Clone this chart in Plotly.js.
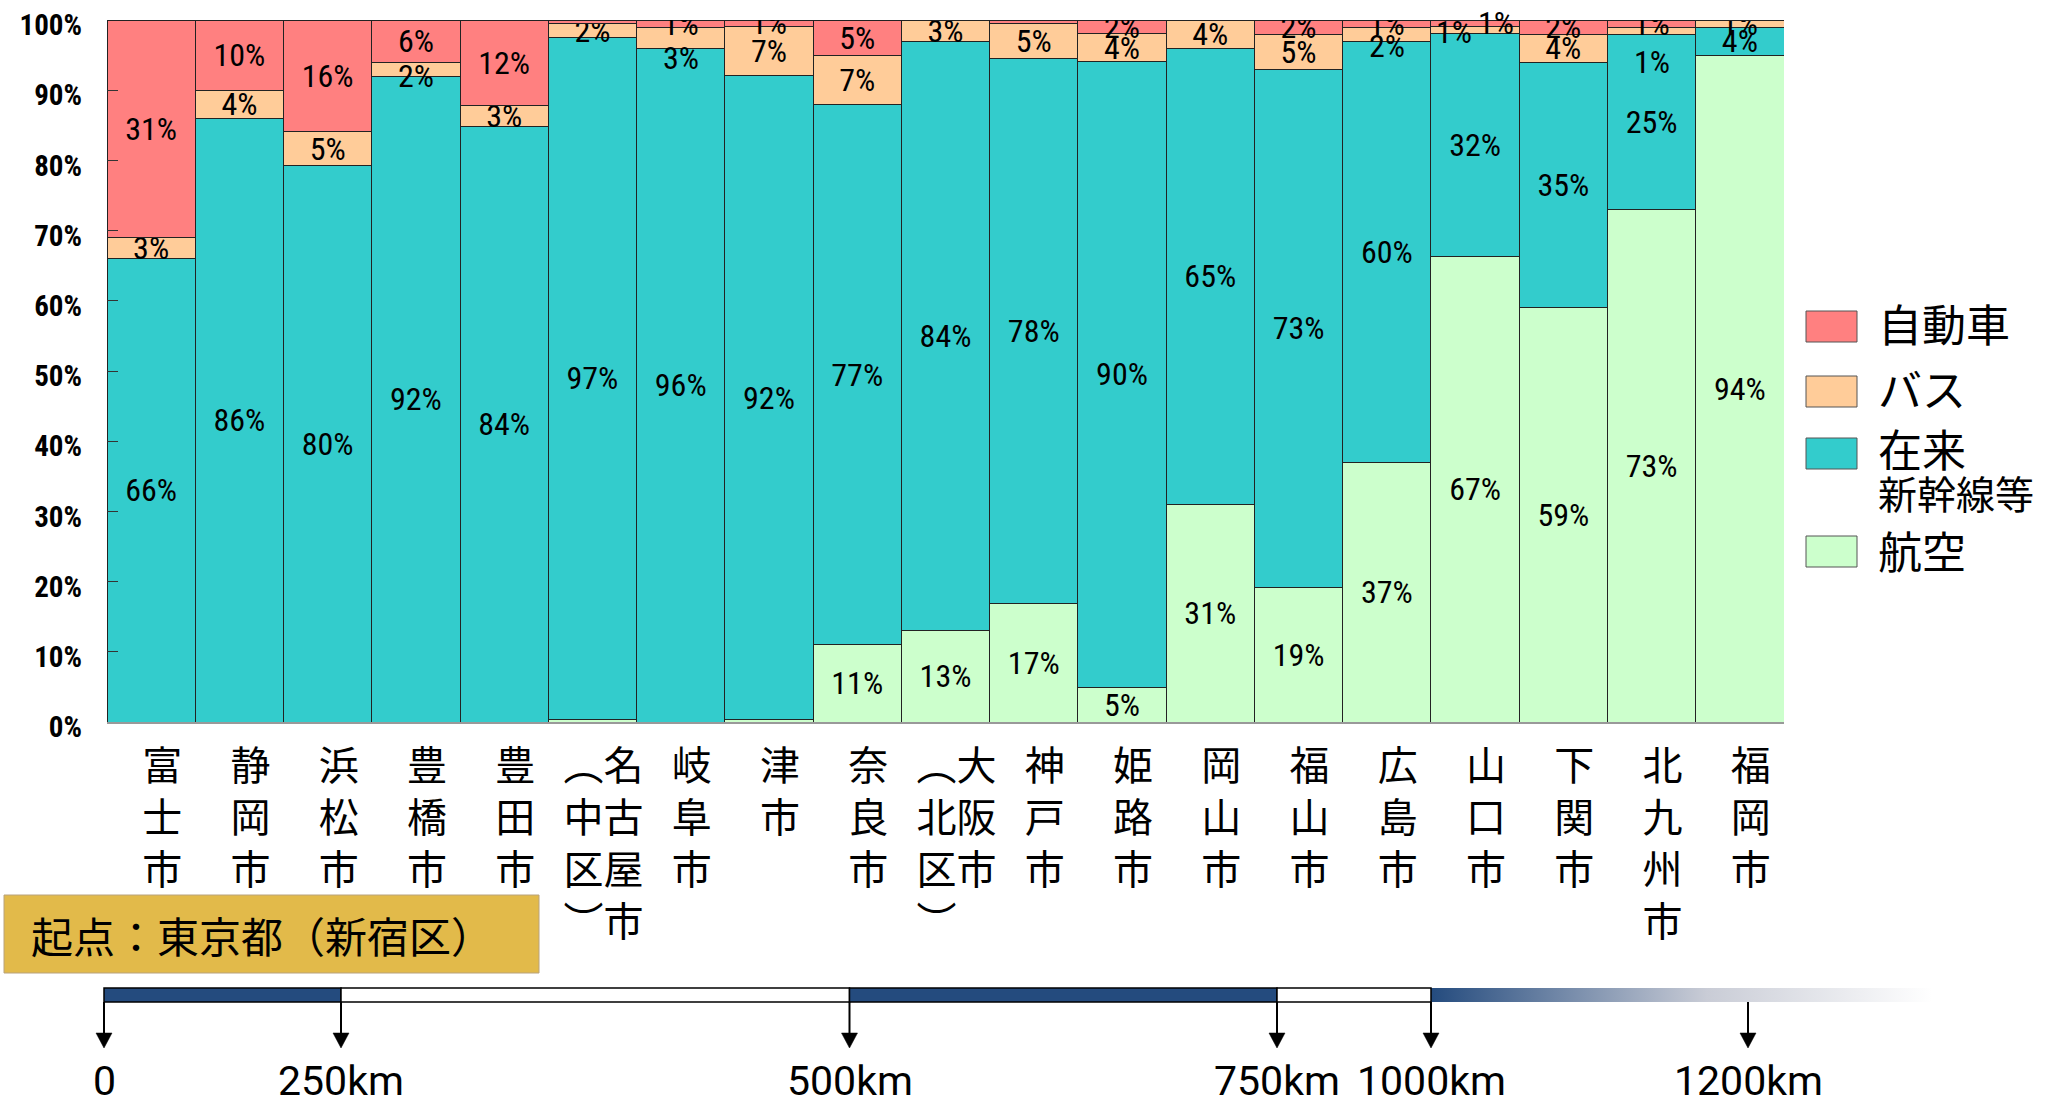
<!DOCTYPE html>
<html>
<head>
<meta charset="utf-8">
<script src="https://cdn.plot.ly/plotly-3.0.1.min.js"></script>
<style>
  html, body { margin: 0; padding: 0; background: #ffffff; }
  #chart { width: 2071px; height: 1108px; }
</style>
</head>
<body>
<div id="chart"></div>
<script>
// Destination cities, ordered by distance from Shinjuku
const cities = ['富士市', '静岡市', '浜松市', '豊橋市', '豊田市', '名古屋市（中区）', '岐阜市', '津市', '奈良市',
  '大阪市（北区）', '神戸市', '姫路市', '岡山市', '福山市', '広島市', '山口市', '下関市', '北九州市', '福岡市'];

// Vertical (tategaki) tick labels: each line holds one character per column
const cityTicks = ['富<br>士<br>市', '静<br>岡<br>市', '浜<br>松<br>市', '豊<br>橋<br>市', '豊<br>田<br>市',
  '︵名<br>中古<br>区屋<br>︶市', '岐<br>阜<br>市', '津<br>市', '奈<br>良<br>市', '︵大<br>北阪<br>区市<br>︶　',
  '神<br>戸<br>市', '姫<br>路<br>市', '岡<br>山<br>市', '福<br>山<br>市', '広<br>島<br>市', '山<br>口<br>市',
  '下<br>関<br>市', '北<br>九<br>州<br>市', '福<br>岡<br>市'];

// Modal share (%) for each destination
const air  = [0, 0, 0, 0, 0, 0.4, 0, 0.4, 11, 13, 17, 5, 31, 19, 37, 67, 59, 73, 94];
const rail = [66, 86, 80, 92, 84, 97, 96, 92, 77, 84, 78, 90, 65, 73, 60, 32, 35, 25, 4];
const bus  = [3, 4, 5, 2, 3, 2, 3, 7, 7, 3, 5, 4, 4, 5, 2, 1, 4, 1, 1];
const car  = [31, 10, 16, 6, 12, 0.5, 1, 1, 5, 0, 0.5, 2, 0, 2, 1, 1, 2, 1, 0];

const seriesNames = { car: '自動車', bus: 'バス', rail: '在来\n新幹線等', air: '航空' };

// Distance scale marks
const distanceLabels = ['0', '250km', '500km', '750km', '1000km', '1200km'];
const originLabel = '起点：東京都（新宿区）';

// ---- layout geometry (pixels) ----
const W = 2071, H = 1108;
const L = 107, R = 1784, T = 20, B = 722;
const px = x => (x - L) / (R - L);
const py = y => (B - y) / (B - T);

const colors = { air: '#CCFFCC', rail: '#33CCCC', bus: '#FFCC99', car: '#FF8080' };
const edge = '#222222';
const navy = '#244B7E';
const narrow = '"Roboto Condensed", "DejaVu Sans Condensed", sans-serif';
const labelFont = { family: narrow, size: 32, color: '#000000' };
const cjk = '"Noto Sans CJK JP", "Noto Sans CJK SC", sans-serif';

const order = ['air', 'rail', 'bus', 'car'];
const values = { air, rail, bus, car };
const pct = v => (v >= 1 ? v + '%' : '');

// Crowded labels at the top of a few bars are moved off the centre
const nudges = [
  { s: 'bus', i: 3, dx: 0, dy: 7 },
  { s: 'bus', i: 6, dx: 0, dy: 20 },
  { s: 'bus', i: 14, dx: 0, dy: 12 },
  { s: 'bus', i: 15, dx: -21, dy: 2 },
  { s: 'car', i: 15, dx: 21, dy: 0 },
  { s: 'bus', i: 17, dx: 0, dy: 31 }
];
const isNudged = (s, i) => nudges.some(n => n.s === s && n.i === i);

const traces = order.map(key => ({
  type: 'bar',
  name: seriesNames[key],
  x: cities,
  y: values[key],
  marker: { color: colors[key], line: { color: edge, width: 1 } },
  text: values[key].map((v, i) => (isNudged(key, i) ? '' : pct(v))),
  textposition: 'inside',
  insidetextanchor: 'middle',
  textangle: 0,
  constraintext: 'none',
  textfont: labelFont,
  hoverinfo: 'skip',
  showlegend: false
}));

// centre of a segment, as a share of its (normalised) bar
function segmentMiddle(key, i) {
  const total = order.reduce((s, k) => s + values[k][i], 0);
  let base = 0;
  for (const k of order) {
    if (k === key) return (base + values[k][i] / 2) / total * 100;
    base += values[k][i];
  }
  return 0;
}

const annotations = nudges.map(n => ({
  x: cities[n.i], y: segmentMiddle(n.s, n.i), xref: 'x', yref: 'y',
  text: pct(values[n.s][n.i]), showarrow: false, font: labelFont,
  xshift: n.dx, yshift: -n.dy
}));

const shapes = [];
const images = [];

// ---- legend ----
const legendRows = [
  { key: 'car', top: 311, lines: [[323, 44]] },
  { key: 'bus', top: 376, lines: [[388, 44]] },
  { key: 'rail', top: 438, lines: [[448, 44], [492, 39]] },
  { key: 'air', top: 536, lines: [[550, 44]] }
];
legendRows.forEach(row => {
  shapes.push({
    type: 'rect', xref: 'paper', yref: 'paper', layer: 'above',
    x0: px(1806), x1: px(1857), y0: py(row.top + 31), y1: py(row.top),
    fillcolor: colors[row.key], line: { color: '#555555', width: 1 }
  });
  seriesNames[row.key].split('\n').forEach((line, j) => {
    annotations.push({
      xref: 'paper', yref: 'paper', x: px(1876), y: py(row.lines[j][0]),
      xanchor: 'left', yanchor: 'middle', showarrow: false, text: line,
      font: { family: cjk, size: row.lines[j][1], color: '#000000' }
    });
  });
});

// ---- origin box ----
shapes.push({
  type: 'rect', xref: 'paper', yref: 'paper',
  x0: px(4), x1: px(539), y0: py(973), y1: py(895),
  fillcolor: '#E2BA4A', line: { color: '#B8A27C', width: 1 }
});
annotations.push({
  xref: 'paper', yref: 'paper', x: px(262), y: py(934), xanchor: 'center', yanchor: 'middle',
  showarrow: false, text: originLabel, font: { family: cjk, size: 42, color: '#000000' }
});

// ---- distance scale ----
const barTop = 988, barBot = 1002;
const scaleSegments = [[104, 341, navy], [341, 849.5, '#ffffff'], [849.5, 1277, navy], [1277, 1431, '#ffffff']];
scaleSegments.forEach(([a, b, c]) => shapes.push({
  type: 'rect', xref: 'paper', yref: 'paper', x0: px(a), x1: px(b), y0: py(barBot), y1: py(barTop),
  fillcolor: c, line: { color: '#000000', width: 1.5 }
}));
const fadeSvg = "<svg xmlns='http://www.w3.org/2000/svg' width='500' height='14' viewBox='0 0 500 14' preserveAspectRatio='none'>" +
  "<defs><linearGradient id='g' x1='0' y1='0' x2='1' y2='0'><stop offset='0' stop-color='" + navy + "'/>" +
  "<stop offset='0.55' stop-color='#c9ccd6'/><stop offset='1' stop-color='#ffffff'/></linearGradient></defs>" +
  "<rect width='500' height='14' fill='url(#g)'/></svg>";
images.push({
  source: 'data:image/svg+xml;charset=utf-8,' + encodeURIComponent(fadeSvg),
  xref: 'paper', yref: 'paper', x: px(1431), y: py(barTop),
  sizex: px(1932) - px(1431), sizey: py(barTop) - py(barBot),
  xanchor: 'left', yanchor: 'top', sizing: 'stretch', layer: 'above'
});
const markX = [104, 341, 849.5, 1277, 1431, 1748];
markX.forEach((x, k) => {
  shapes.push({
    type: 'line', xref: 'paper', yref: 'paper', x0: px(x), x1: px(x), y0: py(barBot), y1: py(1036),
    line: { color: '#000000', width: 2 }
  });
  shapes.push({
    type: 'path', xref: 'paper', yref: 'paper',
    path: `M ${px(x - 8)},${py(1033)} L ${px(x + 8)},${py(1033)} L ${px(x)},${py(1048)} Z`,
    fillcolor: '#000000', line: { color: '#000000', width: 0.5 }
  });
  annotations.push({
    xref: 'paper', yref: 'paper', x: px(x), y: py(1107), xanchor: 'center', yanchor: 'bottom',
    showarrow: false, text: distanceLabels[k],
    font: { family: 'Roboto, "Liberation Sans", sans-serif', size: 41, color: '#000000' }
  });
});

const layout = {
  width: W, height: H,
  margin: { l: L, r: W - R, t: T, b: H - B, pad: 0 },
  paper_bgcolor: '#ffffff', plot_bgcolor: '#ffffff',
  barmode: 'stack', barnorm: 'percent', bargap: 0,
  showlegend: false,
  xaxis: {
    type: 'category', tickmode: 'array', tickvals: cities, ticktext: cityTicks,
    showline: true, linecolor: '#999999', linewidth: 2, ticks: '',
    showgrid: false, zeroline: false,
    tickfont: { family: cjk, size: 40, color: '#000000' },
    tickangle: 0, ticklabelstandoff: 8, ticklabelshift: 11
  },
  yaxis: {
    range: [0, 100], tickmode: 'linear', tick0: 0, dtick: 10, ticksuffix: '%',
    ticks: 'inside', ticklen: 11, tickcolor: '#333333', tickwidth: 1,
    showline: false, showgrid: false, zeroline: false,
    tickfont: { family: narrow, size: 29, weight: 700, color: '#000000' },
    ticklabelstandoff: 24, ticklabelshift: 5
  },
  uniformtext: { mode: 'show', minsize: 32 },
  shapes, annotations, images
};

Plotly.newPlot('chart', traces, layout, { staticPlot: true, displayModeBar: false });
</script>
</body>
</html>
